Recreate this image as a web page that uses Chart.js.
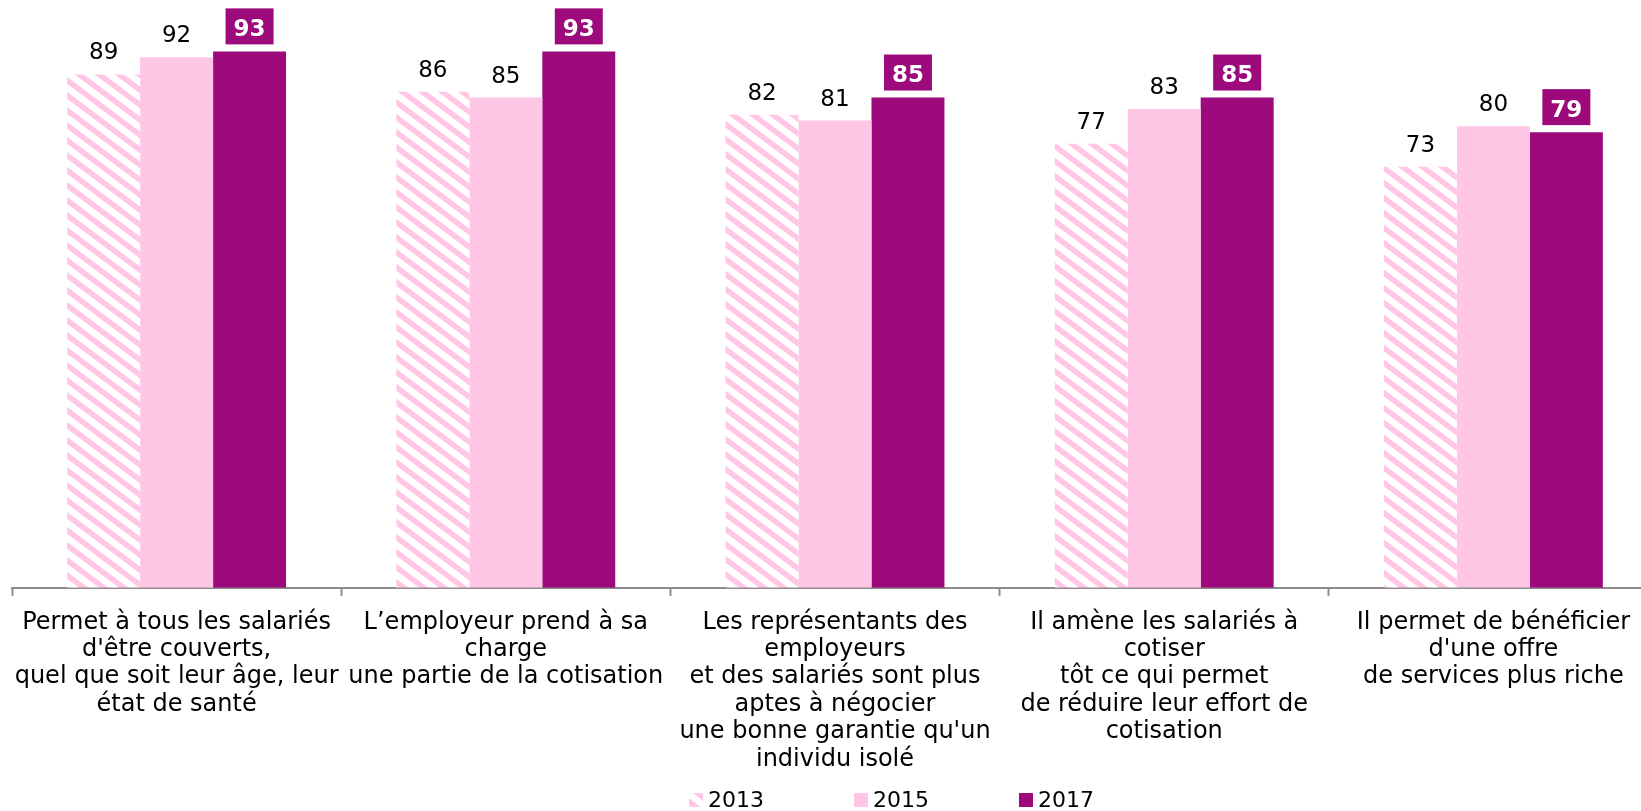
<!DOCTYPE html>
<html><head><meta charset="utf-8">
<script src="https://cdn.jsdelivr.net/npm/chart.js@4/dist/chart.umd.min.js"></script>
<style>html,body{margin:0;padding:0;background:#fff;overflow:hidden;width:1641px;height:811px}</style>
</head><body>
<canvas id="c" width="1660" height="811" style="display:block"></canvas>
<script>
const categories = [
  ["Permet à tous les salariés", "d'être couverts,", "quel que soit leur âge, leur", "état de santé"],
  ["L\u2019employeur prend à sa", "charge", "une partie de la cotisation"],
  ["Les représentants des", "employeurs", "et des salariés sont plus", "aptes à négocier", "une bonne garantie qu'un", "individu isolé"],
  ["Il amène les salariés à", "cotiser", "tôt ce qui permet", "de réduire leur effort de", "cotisation"],
  ["Il permet de bénéficier", "d'une offre", "de services plus riche"]
];
const seriesLabels = ["2013", "2015", "2017"];
const values2013 = [89, 86, 82, 77, 73];
const values2015 = [92, 85, 81, 83, 80];
const values2017 = [93, 93, 85, 85, 79];

const PINK = '#FFC6E6';
const PURPLE = '#9C0A7C';
const FONT = '"DejaVu Sans", Verdana, sans-serif';

function hatchPattern() {
  const c = document.createElement('canvas');
  c.width = 20; c.height = 15;
  const g = c.getContext('2d');
  g.fillStyle = '#fff'; g.fillRect(0, 0, 20, 15);
  g.strokeStyle = PINK; g.lineWidth = 5.5;
  for (let k = -2; k <= 2; k++) {
    g.beginPath();
    g.moveTo(k * 20 - 20, -15);
    g.lineTo(k * 20 + 40, 30);
    g.stroke();
  }
  return document.getElementById('c').getContext('2d').createPattern(c, 'repeat');
}
const HATCH = hatchPattern();

const valueLabels = {
  id: 'valueLabels',
  afterDatasetsDraw(chart) {
    const ctx = chart.ctx;
    chart.data.datasets.forEach((ds, di) => {
      const meta = chart.getDatasetMeta(di);
      meta.data.forEach((bar, i) => {
        const v = ds.data[i];
        const x = bar.x, y = bar.y;
        ctx.save();
        ctx.textAlign = 'center';
        ctx.textBaseline = 'alphabetic';
        if (di === 2) {
          ctx.fillStyle = PURPLE;
          ctx.fillRect(x - 24, y - 43, 48, 36);
          ctx.font = 'bold 23px ' + FONT;
          ctx.fillStyle = '#fff';
          ctx.fillText(String(v), x, y - 15.5);
        } else {
          ctx.font = '23px ' + FONT;
          ctx.fillStyle = '#000';
          ctx.fillText(String(v), x, y - 15);
        }
        ctx.restore();
      });
    });
  }
};

const customLegend = {
  id: 'customLegend',
  afterDraw(chart) {
    const ctx = chart.ctx;
    const pitch = 165, box = 14, gap = 5;
    ctx.save();
    ctx.font = '22px ' + FONT;
    const lastW = ctx.measureText(chart.data.datasets[2].label).width;
    const total = pitch * 2 + box + gap + lastW;
    let x0 = 891.5 - total / 2;
    chart.data.datasets.forEach((ds, i) => {
      const bx = x0 + i * pitch;
      ctx.fillStyle = ds.backgroundColor;
      ctx.fillRect(bx, 793, box, box);
      ctx.fillStyle = '#000';
      ctx.textAlign = 'left';
      ctx.textBaseline = 'alphabetic';
      ctx.fillText(ds.label, bx + box + gap, 807);
    });
    ctx.restore();
  }
};

new Chart(document.getElementById('c'), {
  type: 'bar',
  data: {
    labels: categories,
    datasets: [
      { label: seriesLabels[0], data: values2013, backgroundColor: HATCH, borderWidth: 0 },
      { label: seriesLabels[1], data: values2015, backgroundColor: PINK, borderWidth: 0 },
      { label: seriesLabels[2], data: values2017, backgroundColor: PURPLE, borderWidth: 0 }
    ]
  },
  options: {
    responsive: false,
    animation: false,
    devicePixelRatio: 1,
    layout: { padding: { left: 12, right: 2, top: 11, bottom: 25 } },
    plugins: { legend: { display: false }, tooltip: { enabled: false } },
    datasets: { bar: { categoryPercentage: 0.665, barPercentage: 1 } },
    scales: {
      x: {
        grid: { display: true, drawOnChartArea: false, drawTicks: true, tickLength: 8, tickWidth: 2, tickColor: '#8c8c8c', offset: true },
        border: { display: true, color: '#8c8c8c', width: 2 },
        ticks: { font: { family: FONT, size: 24, lineHeight: 1.14 }, color: '#000', padding: 13, maxRotation: 0, minRotation: 0, autoSkip: false }
      },
      y: { display: false, min: 0, max: 100 }
    }
  },
  plugins: [valueLabels, customLegend]
});
</script>
</body></html>
